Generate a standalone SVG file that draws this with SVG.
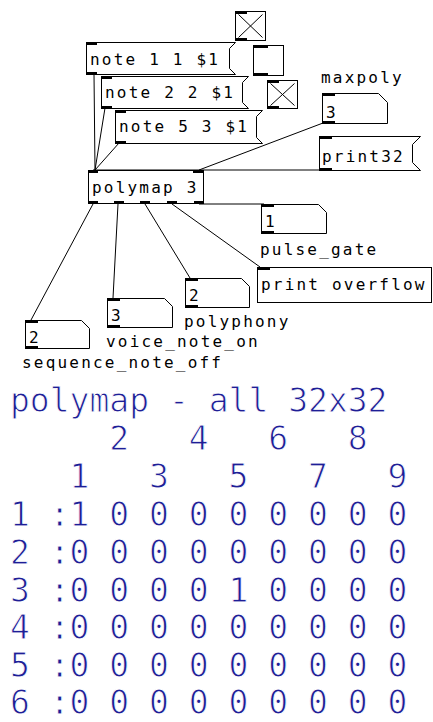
<svg xmlns="http://www.w3.org/2000/svg" width="433" height="722" viewBox="0 0 433 722">
<style>
.box{fill:#fff;stroke:#000;stroke-width:1}
.io{fill:#000}
.x{stroke:#000;stroke-width:1;fill:none}
.c{stroke:#000;stroke-width:1;fill:none}
.t{font-family:"DejaVu Sans Mono","Liberation Mono",monospace;font-size:16px;letter-spacing:2.2px;fill:#000}
.b{font-family:"DejaVu Sans Mono","Liberation Mono",monospace;font-size:33px;fill:#1e1e96;stroke:#fff;stroke-width:0.9px;white-space:pre}
</style>
<rect width="433" height="722" fill="#fff"/>
<g id="connectors">
<line class="c" x1="94" y1="74" x2="95" y2="170"/>
<line class="c" x1="105" y1="108" x2="95" y2="170"/>
<line class="c" x1="119" y1="143" x2="95" y2="170"/>
<line class="c" x1="323" y1="123" x2="199" y2="170"/>
<line class="c" x1="320" y1="170" x2="93" y2="170"/>
<line class="c" x1="93" y1="204" x2="31" y2="320"/>
<line class="c" x1="118" y1="204" x2="113" y2="298"/>
<line class="c" x1="145" y1="204" x2="190" y2="278"/>
<line class="c" x1="172" y1="204" x2="260" y2="267"/>
<line class="c" x1="199" y1="204" x2="264" y2="204"/>
</g>
<g id="toggle1">
<rect class="box" x="235.5" y="11.5" width="30" height="29"/>
<path class="x" d="M238.5,14.5 L262.5,37.5 M262.5,14.5 L238.5,37.5"/>
<rect class="io" x="235" y="11" width="12" height="3"/>
<rect class="io" x="235" y="38" width="12" height="3"/>
</g>
<g id="msg1">
<path class="box" d="M86.5,42.5 H235.5 L229.5,48.5 V68.5 L235.5,74.5 H86.5 Z"/>
<rect class="io" x="86" y="42" width="11" height="3"/>
<rect class="io" x="86" y="72" width="11" height="3"/>
<text class="t" x="90" y="65">note 1 1 $1</text>
</g>
<g id="toggle2">
<rect class="box" x="253.5" y="45.5" width="30" height="30"/>
<rect class="io" x="253" y="45" width="15" height="3"/>
<rect class="io" x="253" y="73" width="15" height="3"/>
</g>
<g id="msg2">
<path class="box" d="M101.5,76.5 H248.5 L242.5,82.5 V102.5 L248.5,108.5 H101.5 Z"/>
<rect class="io" x="101" y="76" width="11" height="3"/>
<rect class="io" x="101" y="106" width="11" height="3"/>
<text class="t" x="105" y="98">note 2 2 $1</text>
</g>
<g id="toggle3">
<rect class="box" x="267.5" y="80.5" width="30" height="28"/>
<path class="x" d="M270.5,83.5 L294.5,105.5 M294.5,83.5 L270.5,105.5"/>
<rect class="io" x="267" y="80" width="12" height="3"/>
<rect class="io" x="267" y="106" width="12" height="3"/>
</g>
<g id="msg3">
<path class="box" d="M115.5,110.5 H262.5 L256.5,116.5 V137.5 L262.5,143.5 H115.5 Z"/>
<rect class="io" x="115" y="110" width="11" height="3"/>
<rect class="io" x="115" y="141" width="11" height="3"/>
<text class="t" x="119" y="132">note 5 3 $1</text>
</g>
<g id="maxpoly">
<text class="t" x="321" y="83">maxpoly</text>
<path class="box" d="M322.5,93.5 H378.5 L387.5,102.5 V123.5 H322.5 Z"/>
<rect class="io" x="322" y="93" width="13" height="3"/>
<rect class="io" x="322" y="121" width="13" height="3"/>
<text class="t" x="326" y="118">3</text>
</g>
<g id="print32">
<path class="box" d="M319.5,136.5 H420.5 L412.5,144.5 V162.5 L420.5,170.5 H319.5 Z"/>
<rect class="io" x="319" y="136" width="13" height="3"/>
<rect class="io" x="319" y="168" width="13" height="3"/>
<text class="t" x="322" y="162">print32</text>
</g>
<g id="polymap">
<rect class="box" x="88.5" y="170.5" width="115" height="33"/>
<rect class="io" x="88" y="170" width="10" height="3"/>
<rect class="io" x="193" y="170" width="11" height="3"/>
<rect class="io" x="88" y="201" width="10" height="3"/>
<rect class="io" x="114" y="201" width="10" height="3"/>
<rect class="io" x="140" y="201" width="10" height="3"/>
<rect class="io" x="167" y="201" width="10" height="3"/>
<rect class="io" x="194" y="201" width="10" height="3"/>
<text class="t" x="92" y="193">polymap 3</text>
</g>
<g id="pulse_gate">
<path class="box" d="M261.5,204.5 H318.5 L326.5,212.5 V233.5 H261.5 Z"/>
<rect class="io" x="261" y="204" width="13" height="3"/>
<rect class="io" x="261" y="231" width="13" height="3"/>
<text class="t" x="265" y="227">1</text>
<text class="t" x="260" y="255">pulse_gate</text>
</g>
<g id="print_overflow">
<rect class="box" x="257.5" y="267.5" width="174" height="35"/>
<rect class="io" x="257" y="267" width="13" height="3"/>
<text class="t" x="261" y="290">print overflow</text>
</g>
<g id="polyphony">
<path class="box" d="M185.5,278.5 H241.5 L249.5,286.5 V307.5 H185.5 Z"/>
<rect class="io" x="185" y="278" width="13" height="3"/>
<rect class="io" x="185" y="305" width="13" height="3"/>
<text class="t" x="189" y="301">2</text>
<text class="t" x="184" y="327">polyphony</text>
</g>
<g id="voice_note_on">
<path class="box" d="M107.5,298.5 H164.5 L172.5,306.5 V327.5 H107.5 Z"/>
<rect class="io" x="107" y="298" width="13" height="3"/>
<rect class="io" x="107" y="325" width="13" height="3"/>
<text class="t" x="111" y="321">3</text>
<text class="t" x="106" y="347">voice_note_on</text>
</g>
<g id="sequence_note_off">
<path class="box" d="M25.5,320.5 H81.5 L89.5,328.5 V348.5 H25.5 Z"/>
<rect class="io" x="25" y="320" width="13" height="3"/>
<rect class="io" x="25" y="346" width="13" height="3"/>
<text class="t" x="29" y="343">2</text>
<text class="t" x="22" y="368">sequence_note_off</text>
</g>
<g id="polymap_display">
<text class="b" xml:space="preserve" x="10" y="412">polymap - all 32x32</text>
<text class="b" xml:space="preserve" x="10" y="450">     2   4   6   8</text>
<text class="b" xml:space="preserve" x="10" y="488">   1   3   5   7   9</text>
<text class="b" xml:space="preserve" x="10" y="526">1 :1 0 0 0 0 0 0 0 0</text>
<text class="b" xml:space="preserve" x="10" y="564">2 :0 0 0 0 0 0 0 0 0</text>
<text class="b" xml:space="preserve" x="10" y="602">3 :0 0 0 0 1 0 0 0 0</text>
<text class="b" xml:space="preserve" x="10" y="639">4 :0 0 0 0 0 0 0 0 0</text>
<text class="b" xml:space="preserve" x="10" y="677">5 :0 0 0 0 0 0 0 0 0</text>
<text class="b" xml:space="preserve" x="10" y="714">6 :0 0 0 0 0 0 0 0 0</text>
</g>
</svg>
